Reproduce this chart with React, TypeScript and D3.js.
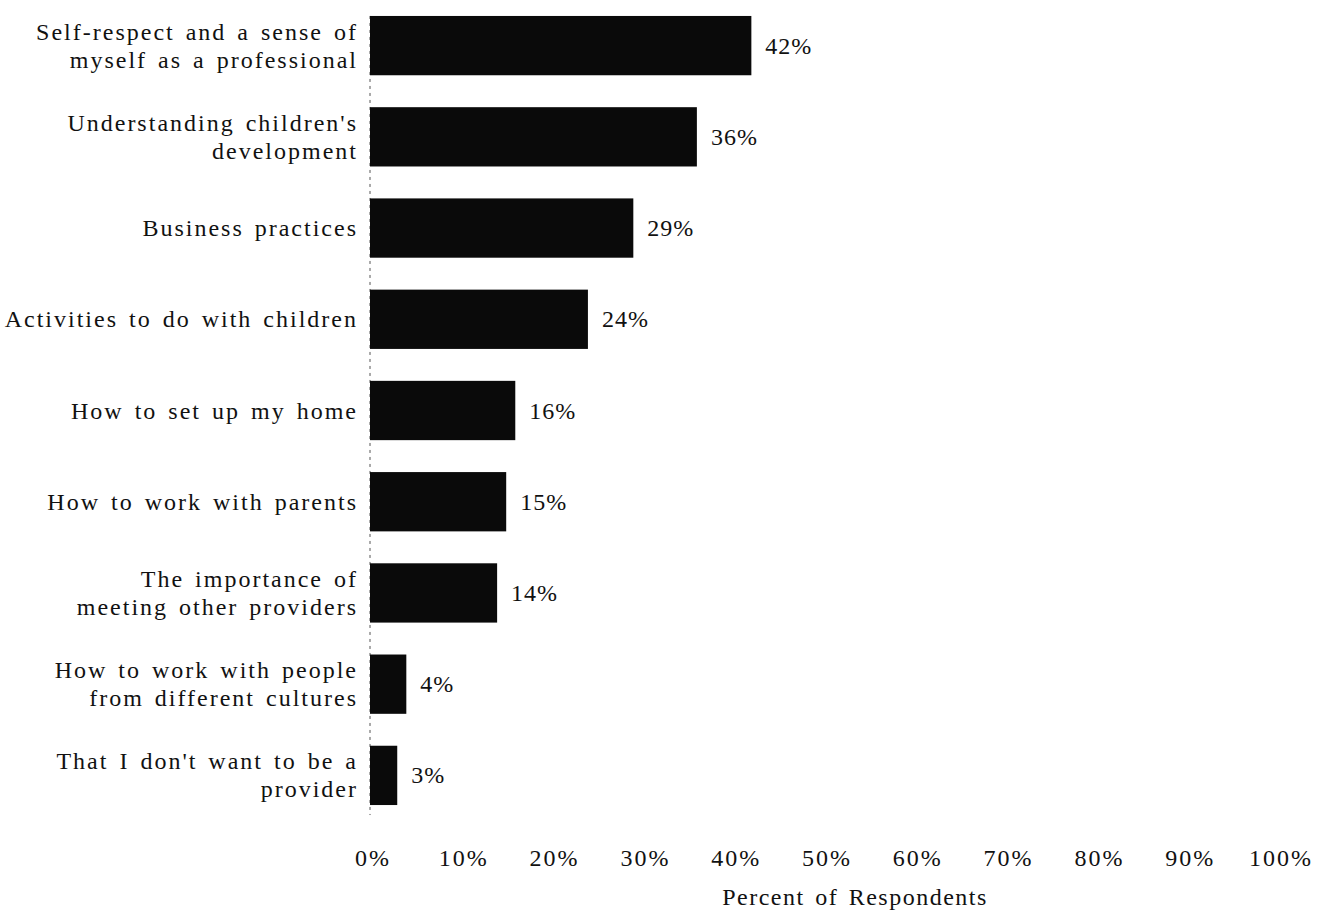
import React from "react";
import * as d3 from "d3";

const categories: string[][] = [
  ["Self-respect and a sense of", "myself as a professional"],
  ["Understanding children's", "development"],
  ["Business practices"],
  ["Activities to do with children"],
  ["How to set up my home"],
  ["How to work with parents"],
  ["The importance of", "meeting other providers"],
  ["How to work with people", "from different cultures"],
  ["That I don't want to be a", "provider"],
];
const values: number[] = [42, 36, 29, 24, 16, 15, 14, 4, 3];
const ticks: number[] = [0, 10, 20, 30, 40, 50, 60, 70, 80, 90, 100];
const axisTitle = "Percent of Respondents";

const W = 1318;
const H = 911;
const FONT = "'Liberation Serif', 'Times New Roman', serif";

export default function App() {
  const x = d3.scaleLinear().domain([0, 100]).range([370, 1278]);
  const y = d3
    .scaleBand<number>()
    .domain(d3.range(values.length))
    .range([0, 821])
    .paddingInner(0.35)
    .paddingOuter(0.175);
  const bw = y.bandwidth();

  return (
    <svg
      width={W}
      height={H}
      style={{ position: "absolute", left: 0, top: 0, background: "#fff" }}
    >
      <line
        x1={x(0)}
        x2={x(0)}
        y1={y(0)!}
        y2={y(values.length - 1)! + bw + 10}
        stroke="#555"
        strokeWidth={1}
        strokeDasharray="3 4"
      />
      {values.map((v, i) => {
        const cy = y(i)! + bw / 2;
        const lines = categories[i];
        return (
          <g key={i}>
            <rect x={x(0)} y={y(i)!} width={x(v) - x(0)} height={bw} fill="#0a0a0a" />
            <text
              x={x(v) + 14}
              y={cy}
              dominantBaseline="central"
              fontFamily={FONT}
              fontSize={24}
              letterSpacing={1}
              fill="#111"
            >
              {v}%
            </text>
            {lines.map((ln, j) => (
              <text
                key={j}
                x={358}
                y={cy + (lines.length === 1 ? 0 : j === 0 ? -14 : 14)}
                textAnchor="end"
                dominantBaseline="central"
                fontFamily={FONT}
                fontSize={24}
                letterSpacing={2}
                wordSpacing={3}
                fill="#111"
              >
                {ln}
              </text>
            ))}
          </g>
        );
      })}
      {ticks.map((t) => (
        <text
          key={t}
          x={x(t) + 3}
          y={858}
          textAnchor="middle"
          dominantBaseline="central"
          fontFamily={FONT}
          fontSize={24}
          letterSpacing={2}
          fill="#111"
        >
          {t}%
        </text>
      ))}
      <text
        x={855}
        y={897}
        textAnchor="middle"
        dominantBaseline="central"
        fontFamily={FONT}
        fontSize={24}
        letterSpacing={1.5}
        wordSpacing={3}
        fill="#111"
      >
        {axisTitle}
      </text>
    </svg>
  );
}
